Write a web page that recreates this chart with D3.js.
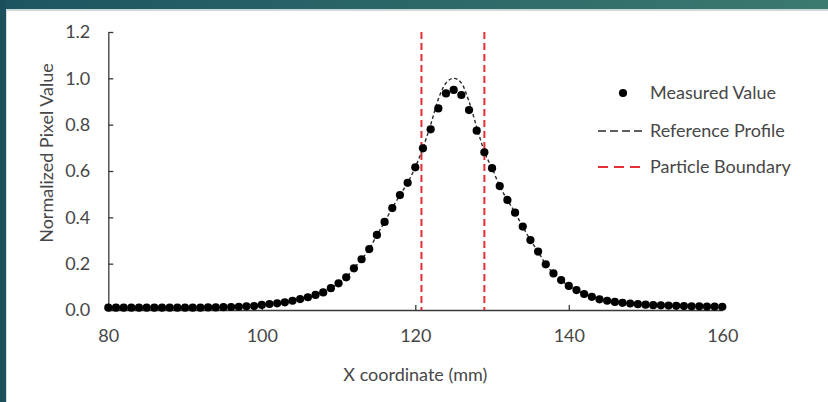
<!DOCTYPE html>
<html>
<head>
<meta charset="utf-8">
<script src="https://cdn.jsdelivr.net/npm/d3@7"></script>
<style>
  html, body { margin: 0; padding: 0; background: #ffffff; }
  svg { display: block; }
  text { font-family: Lato, "Open Sans", sans-serif; fill: #474747; }
</style>
</head>
<body>
<svg id="chart" width="828" height="402"></svg>
<script>
// X positions of the sampled profile (mm)
const xCoords = [
  80, 81, 82, 83, 84, 85, 86, 87, 88, 89,
  90, 91, 92, 93, 94, 95, 96, 97, 98, 99,
  100, 101, 102, 103, 104, 105, 106, 107, 108, 109,
  110, 111, 112, 113, 114, 115, 116, 117, 118, 119,
  120, 121, 122, 123, 124, 125, 126, 127, 128, 129,
  130, 131, 132, 133, 134, 135, 136, 137, 138, 139,
  140, 141, 142, 143, 144, 145, 146, 147, 148, 149,
  150, 151, 152, 153, 154, 155, 156, 157, 158, 159,
  160
];

// Measured normalized pixel values
const measured = [
  0.010, 0.010, 0.010, 0.010, 0.010, 0.010, 0.010, 0.010, 0.010, 0.010,
  0.010, 0.010, 0.010, 0.011, 0.011, 0.012, 0.013, 0.014, 0.016, 0.017,
  0.022, 0.026, 0.029, 0.033, 0.040, 0.047, 0.055, 0.065, 0.076, 0.094,
  0.115, 0.141, 0.180, 0.219, 0.263, 0.324, 0.380, 0.440, 0.496, 0.549,
  0.616, 0.698, 0.780, 0.870, 0.935, 0.950, 0.928, 0.863, 0.774, 0.681,
  0.612, 0.535, 0.475, 0.420, 0.360, 0.302, 0.252, 0.197, 0.158, 0.129,
  0.104, 0.086, 0.069, 0.057, 0.046, 0.040, 0.035, 0.031, 0.028, 0.025,
  0.023, 0.021, 0.020, 0.019, 0.018, 0.017, 0.016, 0.016, 0.015, 0.015,
  0.014
];

// Reference profile values
const reference = [
  0.010, 0.010, 0.010, 0.010, 0.010, 0.010, 0.010, 0.010, 0.010, 0.010,
  0.010, 0.010, 0.010, 0.011, 0.011, 0.012, 0.013, 0.014, 0.016, 0.017,
  0.022, 0.026, 0.029, 0.033, 0.040, 0.047, 0.055, 0.065, 0.076, 0.094,
  0.115, 0.141, 0.180, 0.219, 0.263, 0.324, 0.380, 0.440, 0.496, 0.549,
  0.616, 0.700, 0.800, 0.910, 0.980, 1.000, 0.980, 0.900, 0.790, 0.683,
  0.612, 0.535, 0.475, 0.420, 0.360, 0.302, 0.252, 0.197, 0.158, 0.129,
  0.104, 0.086, 0.069, 0.057, 0.046, 0.040, 0.035, 0.031, 0.028, 0.025,
  0.023, 0.021, 0.020, 0.019, 0.018, 0.017, 0.016, 0.016, 0.015, 0.015,
  0.014
];

// Particle boundary positions (mm)
const boundaries = [120.8, 129.0];

const xTicks = [80, 100, 120, 140, 160];
const yTicks = [0, 0.2, 0.4, 0.6, 0.8, 1.0, 1.2];

const legendLabels = ["Measured Value", "Reference Profile", "Particle Boundary"];
const xTitle = "X coordinate (mm)";
const yTitle = "Normalized Pixel Value";

const W = 828, H = 402;
const svg = d3.select("#chart");

// Slide frame: teal band along the top and left edge
const defs = svg.append("defs");
const grad = defs.append("linearGradient").attr("id", "band").attr("x1", "0").attr("x2", "1");
grad.append("stop").attr("offset", "0").attr("stop-color", "#1d5461");
grad.append("stop").attr("offset", "1").attr("stop-color", "#3b7a6f");
svg.append("rect").attr("x", 0).attr("y", 0).attr("width", W).attr("height", 9).attr("fill", "url(#band)");
svg.append("rect").attr("x", 0).attr("y", 9).attr("width", W).attr("height", 2).attr("fill", "#cdd8d8");
svg.append("rect").attr("x", 0).attr("y", 0).attr("width", 6).attr("height", H).attr("fill", "#1c4f5c");
svg.append("rect").attr("x", 6).attr("y", 11).attr("width", 1).attr("height", H - 11).attr("fill", "#d5dede");

// Scales
const x = d3.scaleLinear().domain([80, 160]).range([108.3, 722.3]);
const y = d3.scaleLinear().domain([0, 1.2]).range([310, 32]);

const axisColor = "#3a3a3a";
const textColor = "#474747";
const fontSize = 18;

// Y axis
const gy = svg.append("g").attr("transform", `translate(${x(80)},0)`)
  .call(d3.axisLeft(y).tickValues(yTicks).tickSizeInner(-5).tickSizeOuter(0)
    .tickPadding(18).tickFormat(d3.format(".1f")));
gy.select(".domain").attr("stroke", axisColor).attr("stroke-width", 1.3);
gy.selectAll(".tick line").attr("stroke", axisColor).attr("stroke-width", 1.3);
gy.selectAll(".tick text").attr("font-size", fontSize).attr("font-family", "Lato, sans-serif").attr("fill", textColor);

// X axis
const gx = svg.append("g").attr("transform", `translate(0,${y(0)})`)
  .call(d3.axisBottom(x).tickValues(xTicks).tickSizeInner(-5).tickSizeOuter(0)
    .tickPadding(19).tickFormat(d3.format("d")));
gx.select(".domain").attr("stroke", axisColor).attr("stroke-width", 1.3);
gx.selectAll(".tick line").attr("stroke", axisColor).attr("stroke-width", 1.3);
gx.selectAll(".tick text").attr("font-size", fontSize).attr("font-family", "Lato, sans-serif").attr("fill", textColor);

// Axis titles
svg.append("text").attr("x", x(120)).attr("y", 381).attr("text-anchor", "middle")
  .attr("font-size", fontSize).text(xTitle);
svg.append("text").attr("transform", `translate(53,153) rotate(-90)`).attr("text-anchor", "middle")
  .attr("font-size", fontSize).text(yTitle);

const points = xCoords.map((d, i) => ({ x: d, m: measured[i], r: reference[i] }));

// Particle boundary lines
const red = "#e52d36";
svg.append("g").selectAll("line").data(boundaries).join("line")
  .attr("x1", d => x(d)).attr("x2", d => x(d))
  .attr("y1", y(1.2)).attr("y2", y(0))
  .attr("stroke", red).attr("stroke-width", 2).attr("stroke-dasharray", "7,4");

// Reference profile
const line = d3.line().x(d => x(d.x)).y(d => y(d.r)).curve(d3.curveMonotoneX);
svg.append("path").datum(points).attr("d", line)
  .attr("fill", "none").attr("stroke", "#2b2b2b").attr("stroke-width", 1.4)
  .attr("stroke-dasharray", "3.5,2.5");

// Measured values
svg.append("g").selectAll("circle").data(points).join("circle")
  .attr("cx", d => x(d.x)).attr("cy", d => y(d.m)).attr("r", 4.1).attr("fill", "#000");

// Legend
const lg = svg.append("g");
const rowY = [93, 131, 167];
lg.append("circle").attr("cx", 623).attr("cy", rowY[0]).attr("r", 4.1).attr("fill", "#000");
lg.append("line").attr("x1", 598).attr("x2", 646).attr("y1", rowY[1]).attr("y2", rowY[1])
  .attr("stroke", "#2b2b2b").attr("stroke-width", 1.6).attr("stroke-dasharray", "8,4");
lg.append("line").attr("x1", 598).attr("x2", 646).attr("y1", rowY[2]).attr("y2", rowY[2])
  .attr("stroke", red).attr("stroke-width", 2).attr("stroke-dasharray", "10,6");
lg.selectAll("text").data(legendLabels).join("text")
  .attr("x", 650).attr("y", (d, i) => rowY[i]).attr("dy", "0.35em")
  .attr("font-size", fontSize).text(d => d);
</script>
</body>
</html>
